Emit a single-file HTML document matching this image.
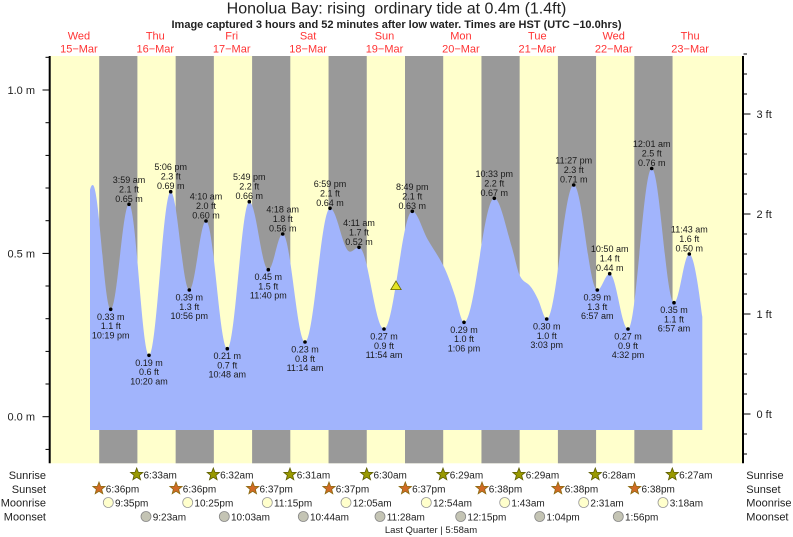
<!DOCTYPE html>
<html><head><meta charset="utf-8"><style>
html,body{margin:0;padding:0;background:#fff;}
svg{display:block;font-family:"Liberation Sans",Arial,sans-serif;}
</style></head><body>
<svg width="793" height="537" viewBox="0 0 793 537" xmlns="http://www.w3.org/2000/svg">
<defs>
<polygon id="star" points="0,-6.5 1.65,-2.27 6.18,-2.01 2.66,0.87 3.82,5.26 0,2.8 -3.82,5.26 -2.66,0.87 -6.18,-2.01 -1.65,-2.27"/>
</defs>
<rect x="0" y="0" width="793" height="537" fill="#fff"/>
<!-- title -->
<text x="396.5" y="13.5" font-size="16" text-anchor="middle" fill="#222">Honolua Bay: rising&#160; ordinary tide at 0.4m (1.4ft)</text>
<text x="396.5" y="28" font-size="11" font-weight="bold" text-anchor="middle" fill="#222">Image captured 3 hours and 52 minutes after low water. Times are HST (UTC −10.0hrs)</text>
<!-- day labels -->
<g font-size="11" fill="#f33" text-anchor="middle">
<text x="78.9" y="39.7">Wed</text><text x="78.9" y="52.3">15−Mar</text>
<text x="155.3" y="39.7">Thu</text><text x="155.3" y="52.3">16−Mar</text>
<text x="231.7" y="39.7">Fri</text><text x="231.7" y="52.3">17−Mar</text>
<text x="308.1" y="39.7">Sat</text><text x="308.1" y="52.3">18−Mar</text>
<text x="384.5" y="39.7">Sun</text><text x="384.5" y="52.3">19−Mar</text>
<text x="460.9" y="39.7">Mon</text><text x="460.9" y="52.3">20−Mar</text>
<text x="537.3" y="39.7">Tue</text><text x="537.3" y="52.3">21−Mar</text>
<text x="613.7" y="39.7">Wed</text><text x="613.7" y="52.3">22−Mar</text>
<text x="690.1" y="39.7">Thu</text><text x="690.1" y="52.3">23−Mar</text>
</g>
<!-- plot background -->
<rect x="50" y="56" width="693" height="407.3" fill="#ffffcc"/>
<g fill="#999999">
<rect x="99.2" y="56" width="38.2" height="407.3"/>
<rect x="175.65" y="56" width="38.2" height="407.3"/>
<rect x="252.1" y="56" width="38.2" height="407.3"/>
<rect x="328.55" y="56" width="38.2" height="407.3"/>
<rect x="405.0" y="56" width="38.2" height="407.3"/>
<rect x="481.45" y="56" width="38.2" height="407.3"/>
<rect x="557.9" y="56" width="38.2" height="407.3"/>
<rect x="634.35" y="56" width="38.2" height="407.3"/>
</g>
<!-- tide fill -->
<path fill="#a1b4fc" d="M90,430 L90,190 C90.8,186.5 91.7,185 92.7,185
C99.25,185 104.15,309.3 110.7,309.3
C117.29,309.3 122.41,204.3 129,204.3
C136.2,204.3 141.8,355.3 149,355.3
C156.81,355.3 162.89,191.7 170.7,191.7
C177.4,191.7 182.6,290 189.3,290
C195.31,290 199.99,221 206,221
C213.67,221 219.63,348.7 227.3,348.7
C235.22,348.7 241.38,201.7 249.3,201.7
C256.14,201.7 261.46,269.7 268.3,269.7
C273.48,269.7 277.52,234 282.7,234
C290.73,234 296.97,342 305,342
C314,342 321,208.3 330,208.3
C337.2,208.3 342.8,251.7 350,251.7
C353.24,251.7 355.76,247.3 359,247.3
C368,247.3 375,329 384,329
C394.19,329 402.11,211.3 412.3,211.3
C417.53,211.3 422.77,231.1 428,240
C433,248.5 438,255.5 443,265
C447,272.6 451,284 455,296
C458,305 461,322.3 464,322.3
C474.9,322.3 483.4,198.3 494.3,198.3
C500.1,198.3 505.9,227.56 511.7,246.7
C514.47,255.83 517.23,270.47 520,276
C522.67,281.33 525.33,281.87 528,284
C531.43,286.75 534.87,292.45 538.3,300
C541.1,306.16 543.9,319 546.7,319
C556.42,319 563.98,185 573.7,185
C582.2,185 588.8,290 597.3,290
C601.76,290 605.24,273.7 609.7,273.7
C616.29,273.7 621.41,329 628,329
C636.53,329 643.17,168.5 651.7,168.5
C659.73,168.5 665.97,302.7 674,302.7
C679.51,302.7 683.79,254 689.3,254
C694,254 699,290 702.3,316.7
L702.3,430 Z"/>
<!-- current marker -->
<polygon points="396,281 390.8,289.6 401.2,289.6" fill="#e3e322" stroke="#666600" stroke-width="0.8"/>
<!-- extrema dots -->
<g fill="#000">
<circle cx="110.7" cy="309.3" r="1.8"/><circle cx="129" cy="204.3" r="1.8"/>
<circle cx="149" cy="355.3" r="1.8"/><circle cx="170.7" cy="191.7" r="1.8"/>
<circle cx="189.3" cy="290" r="1.8"/><circle cx="206" cy="221" r="1.8"/>
<circle cx="227.3" cy="348.7" r="1.8"/><circle cx="249.3" cy="201.7" r="1.8"/>
<circle cx="268.3" cy="269.7" r="1.8"/><circle cx="282.7" cy="234" r="1.8"/>
<circle cx="305" cy="342" r="1.8"/><circle cx="330" cy="208.3" r="1.8"/>
<circle cx="359" cy="247.3" r="1.8"/><circle cx="384" cy="329" r="1.8"/>
<circle cx="412.3" cy="211.3" r="1.8"/><circle cx="464" cy="322.3" r="1.8"/>
<circle cx="494.3" cy="198.3" r="1.8"/><circle cx="546.7" cy="319" r="1.8"/>
<circle cx="573.7" cy="185" r="1.8"/><circle cx="597.3" cy="290" r="1.8"/>
<circle cx="609.7" cy="273.7" r="1.8"/><circle cx="628" cy="329" r="1.8"/>
<circle cx="651.7" cy="168.5" r="1.8"/><circle cx="674" cy="302.7" r="1.8"/>
<circle cx="689.3" cy="254" r="1.8"/>
</g>
<!-- extrema labels -->
<g font-size="9" fill="#1a1a1a" text-anchor="middle">
<text x="110.7" y="319.8">0.33 m</text><text x="110.7" y="329.1">1.1 ft</text><text x="110.7" y="338.3">10:19 pm</text>
<text x="129" y="182.8">3:59 am</text><text x="129" y="192.3">2.1 ft</text><text x="129" y="201.8">0.65 m</text>
<text x="149" y="365.8">0.19 m</text><text x="149" y="375.1">0.6 ft</text><text x="149" y="384.3">10:20 am</text>
<text x="170.7" y="170.2">5:06 pm</text><text x="170.7" y="179.7">2.3 ft</text><text x="170.7" y="189.2">0.69 m</text>
<text x="189.3" y="300.5">0.39 m</text><text x="189.3" y="309.8">1.3 ft</text><text x="189.3" y="319">10:56 pm</text>
<text x="206" y="199.5">4:10 am</text><text x="206" y="209">2.0 ft</text><text x="206" y="218.5">0.60 m</text>
<text x="227.3" y="359.2">0.21 m</text><text x="227.3" y="368.5">0.7 ft</text><text x="227.3" y="377.7">10:48 am</text>
<text x="249.3" y="180.2">5:49 pm</text><text x="249.3" y="189.7">2.2 ft</text><text x="249.3" y="199.2">0.66 m</text>
<text x="268.3" y="280.2">0.45 m</text><text x="268.3" y="289.5">1.5 ft</text><text x="268.3" y="298.7">11:40 pm</text>
<text x="282.7" y="212.5">4:18 am</text><text x="282.7" y="222">1.8 ft</text><text x="282.7" y="231.5">0.56 m</text>
<text x="305" y="352.5">0.23 m</text><text x="305" y="361.8">0.8 ft</text><text x="305" y="371">11:14 am</text>
<text x="330" y="186.8">6:59 pm</text><text x="330" y="196.3">2.1 ft</text><text x="330" y="205.8">0.64 m</text>
<text x="359" y="225.8">4:11 am</text><text x="359" y="235.3">1.7 ft</text><text x="359" y="244.8">0.52 m</text>
<text x="384" y="339.5">0.27 m</text><text x="384" y="348.8">0.9 ft</text><text x="384" y="358">11:54 am</text>
<text x="412.3" y="189.8">8:49 pm</text><text x="412.3" y="199.3">2.1 ft</text><text x="412.3" y="208.8">0.63 m</text>
<text x="464" y="332.8">0.29 m</text><text x="464" y="342.1">1.0 ft</text><text x="464" y="351.3">1:06 pm</text>
<text x="494.3" y="176.8">10:33 pm</text><text x="494.3" y="186.3">2.2 ft</text><text x="494.3" y="195.8">0.67 m</text>
<text x="546.7" y="329.5">0.30 m</text><text x="546.7" y="338.8">1.0 ft</text><text x="546.7" y="348">3:03 pm</text>
<text x="573.7" y="163.5">11:27 pm</text><text x="573.7" y="173">2.3 ft</text><text x="573.7" y="182.5">0.71 m</text>
<text x="597.3" y="300.5">0.39 m</text><text x="597.3" y="309.8">1.3 ft</text><text x="597.3" y="319">6:57 am</text>
<text x="609.7" y="252.2">10:50 am</text><text x="609.7" y="261.7">1.4 ft</text><text x="609.7" y="271.2">0.44 m</text>
<text x="628" y="339.5">0.27 m</text><text x="628" y="348.8">0.9 ft</text><text x="628" y="358">4:32 pm</text>
<text x="651.7" y="147">12:01 am</text><text x="651.7" y="156.5">2.5 ft</text><text x="651.7" y="166">0.76 m</text>
<text x="674" y="313.2">0.35 m</text><text x="674" y="322.5">1.1 ft</text><text x="674" y="331.7">6:57 am</text>
<text x="689.3" y="232.5">11:43 am</text><text x="689.3" y="242">1.6 ft</text><text x="689.3" y="251.5">0.50 m</text>
</g>
<!-- axes -->
<g stroke="#000" fill="none">
<line x1="49.7" y1="56" x2="49.7" y2="463.3" stroke-width="2"/>
<line x1="743" y1="56" x2="743" y2="463.3" stroke-width="2"/>
<g stroke-width="1">
<line x1="42.5" y1="416.7" x2="49" y2="416.7"/>
<line x1="42.5" y1="253.4" x2="49" y2="253.4"/>
<line x1="42.5" y1="90" x2="49" y2="90"/>
<line x1="45.5" y1="449.4" x2="49" y2="449.4"/>
<line x1="45.5" y1="384" x2="49" y2="384"/>
<line x1="45.5" y1="351.4" x2="49" y2="351.4"/>
<line x1="45.5" y1="318.7" x2="49" y2="318.7"/>
<line x1="45.5" y1="286" x2="49" y2="286"/>
<line x1="45.5" y1="220.7" x2="49" y2="220.7"/>
<line x1="45.5" y1="188" x2="49" y2="188"/>
<line x1="45.5" y1="155.4" x2="49" y2="155.4"/>
<line x1="45.5" y1="122.7" x2="49" y2="122.7"/>
<line x1="45.5" y1="57.3" x2="49" y2="57.3"/>
<line x1="743.5" y1="414" x2="750.5" y2="414"/>
<line x1="743.5" y1="314" x2="750.5" y2="314"/>
<line x1="743.5" y1="214" x2="750.5" y2="214"/>
<line x1="743.5" y1="114" x2="750.5" y2="114"/>
<line x1="743.5" y1="454" x2="747" y2="454"/>
<line x1="743.5" y1="434" x2="747" y2="434"/>
<line x1="743.5" y1="394" x2="747" y2="394"/>
<line x1="743.5" y1="374" x2="747" y2="374"/>
<line x1="743.5" y1="354" x2="747" y2="354"/>
<line x1="743.5" y1="334" x2="747" y2="334"/>
<line x1="743.5" y1="294" x2="747" y2="294"/>
<line x1="743.5" y1="274" x2="747" y2="274"/>
<line x1="743.5" y1="254" x2="747" y2="254"/>
<line x1="743.5" y1="234" x2="747" y2="234"/>
<line x1="743.5" y1="194" x2="747" y2="194"/>
<line x1="743.5" y1="174" x2="747" y2="174"/>
<line x1="743.5" y1="154" x2="747" y2="154"/>
<line x1="743.5" y1="134" x2="747" y2="134"/>
<line x1="743.5" y1="94" x2="747" y2="94"/>
<line x1="743.5" y1="74" x2="747" y2="74"/>
<line x1="743.5" y1="54" x2="747" y2="54"/>
</g>
</g>
<g font-size="11" fill="#222">
<text x="35" y="94" text-anchor="end">1.0 m</text>
<text x="35" y="257.4" text-anchor="end">0.5 m</text>
<text x="35" y="420.7" text-anchor="end">0.0 m</text>
<text x="756.5" y="118">3 ft</text>
<text x="756.5" y="218">2 ft</text>
<text x="756.5" y="318">1 ft</text>
<text x="756.5" y="418">0 ft</text>
</g>
<!-- bottom rows labels -->
<g font-size="11" fill="#222">
<text x="46" y="479" text-anchor="end">Sunrise</text>
<text x="46" y="493" text-anchor="end">Sunset</text>
<text x="46" y="506.5" text-anchor="end">Moonrise</text>
<text x="46" y="520.5" text-anchor="end">Moonset</text>
<text x="746.3" y="479">Sunrise</text>
<text x="746.3" y="493">Sunset</text>
<text x="746.3" y="506.5">Moonrise</text>
<text x="746.3" y="520.5">Moonset</text>
</g>
<!-- sunrise stars -->
<g fill="#999900" stroke="#5c5c00" stroke-width="0.8">
<use href="#star" x="136.7" y="474.5"/><use href="#star" x="213.3" y="474.5"/>
<use href="#star" x="290" y="474.5"/><use href="#star" x="366.7" y="474.5"/>
<use href="#star" x="443" y="474.5"/><use href="#star" x="519" y="474.5"/>
<use href="#star" x="595.3" y="474.5"/><use href="#star" x="672.3" y="474.5"/>
</g>
<g fill="#d06a25" stroke="#8a6a10" stroke-width="0.8">
<use href="#star" x="99" y="488.5"/><use href="#star" x="176" y="488.5"/>
<use href="#star" x="252.7" y="488.5"/><use href="#star" x="329" y="488.5"/>
<use href="#star" x="405.3" y="488.5"/><use href="#star" x="482" y="488.5"/>
<use href="#star" x="558" y="488.5"/><use href="#star" x="634.7" y="488.5"/>
</g>
<g fill="#ffffcc" stroke="#999" stroke-width="0.8">
<circle cx="108.3" cy="502.5" r="5"/><circle cx="187.7" cy="502.5" r="5"/>
<circle cx="267.3" cy="502.5" r="5"/><circle cx="346" cy="502.5" r="5"/>
<circle cx="426.3" cy="502.5" r="5"/><circle cx="504.7" cy="502.5" r="5"/>
<circle cx="583.7" cy="502.5" r="5"/><circle cx="663" cy="502.5" r="5"/>
</g>
<g fill="#c4c4b4" stroke="#888" stroke-width="0.8">
<circle cx="146" cy="516.5" r="5"/><circle cx="224.3" cy="516.5" r="5"/>
<circle cx="303.3" cy="516.5" r="5"/><circle cx="380" cy="516.5" r="5"/>
<circle cx="460.7" cy="516.5" r="5"/><circle cx="539.7" cy="516.5" r="5"/>
<circle cx="618.3" cy="516.5" r="5"/>
</g>
<g font-size="10" fill="#222">
<text x="143.5" y="478.5">6:33am</text><text x="220.1" y="478.5">6:32am</text>
<text x="296.8" y="478.5">6:31am</text><text x="373.5" y="478.5">6:30am</text>
<text x="449.8" y="478.5">6:29am</text><text x="525.8" y="478.5">6:29am</text>
<text x="602.1" y="478.5">6:28am</text><text x="679.1" y="478.5">6:27am</text>
<text x="105.8" y="492.5">6:36pm</text><text x="182.8" y="492.5">6:36pm</text>
<text x="259.5" y="492.5">6:37pm</text><text x="335.8" y="492.5">6:37pm</text>
<text x="412.1" y="492.5">6:37pm</text><text x="488.8" y="492.5">6:38pm</text>
<text x="564.8" y="492.5">6:38pm</text><text x="641.5" y="492.5">6:38pm</text>
<text x="115" y="506.3">9:35pm</text><text x="194.4" y="506.3">10:25pm</text>
<text x="274" y="506.3">11:15pm</text><text x="352.7" y="506.3">12:05am</text>
<text x="433" y="506.3">12:54am</text><text x="511.4" y="506.3">1:43am</text>
<text x="590.4" y="506.3">2:31am</text><text x="669.7" y="506.3">3:18am</text>
<text x="152.7" y="520.3">9:23am</text><text x="231" y="520.3">10:03am</text>
<text x="310" y="520.3">10:44am</text><text x="386.7" y="520.3">11:28am</text>
<text x="467.4" y="520.3">12:15pm</text><text x="546.4" y="520.3">1:04pm</text>
<text x="625" y="520.3">1:56pm</text>
</g>
<text x="431" y="533" font-size="9.5" fill="#222" text-anchor="middle">Last Quarter | 5:58am</text>
</svg>
</body></html>
